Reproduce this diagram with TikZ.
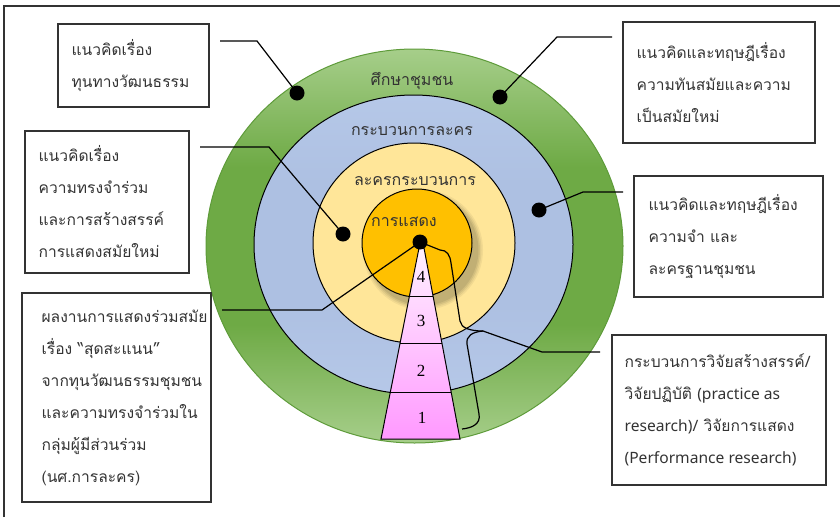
\documentclass[tikz,border=0pt]{standalone}
\usepackage{fontspec}
\setmainfont{Loma}[Script=Thai]
\newfontfamily\numfont{Liberation Serif}
\newfontfamily\latfont{Noto Sans}
\definecolor{grL}{HTML}{A6CE8A}
\definecolor{grD}{HTML}{6EAA45}
\definecolor{grE}{HTML}{5E9B3A}
\definecolor{blL}{HTML}{B6C8E8}
\definecolor{blD}{HTML}{ADC0E2}
\definecolor{yeL}{HTML}{FFE699}
\definecolor{yeD}{HTML}{FADA8A}
\definecolor{orC}{HTML}{FFC000}
\definecolor{pkT}{HTML}{FFF0FF}
\definecolor{pkB}{HTML}{FF99FF}
\definecolor{txtC}{HTML}{333333}
\pgfdeclareverticalshading{greenring}{100bp}{color(0bp)=(grL); color(25bp)=(grL); color(40bp)=(grD); color(60bp)=(grD); color(75bp)=(grL); color(100bp)=(grL)}
\pgfdeclareverticalshading{bluering}{100bp}{color(0bp)=(blL); color(25bp)=(blL); color(40bp)=(blD); color(60bp)=(blD); color(75bp)=(blL); color(100bp)=(blL)}
\begin{document}
\begin{tikzpicture}[x=1pt,y=-1pt,
  boxframe/.style={draw=black!80, line width=1.2pt, inner sep=0pt},
  boxtext/.style={text=txtC, align=left, inner sep=0pt, font=\fontsize{15.6}{32}\selectfont},
  ringlabel/.style={text=txtC, inner sep=0pt, font=\fontsize{16}{20}\selectfont},
  numlabel/.style={text=black, inner sep=0pt, font=\numfont\fontsize{17}{20}\selectfont},
  conn/.style={draw=black, line width=1.2pt},
  dotnode/.style={circle, fill=black, inner sep=0pt, minimum size=15pt},
  ring/.style={line width=1pt}]
\useasboundingbox (0,0) rectangle (840,517);
% frame
\draw[black!80, line width=1.2pt] (4,517) -- (4,6) -- (840,6);

% rings
\shade[ring, shading=greenring, draw=grE] (414.5,246) ellipse [x radius=208.5, y radius=197];
\shade[ring, shading=bluering, draw=black] (413.5,244.5) ellipse [x radius=159.5, y radius=149.5];
\shade[ring, top color=yeL, middle color=yeD, bottom color=yeL, draw=black] (414,243) ellipse [x radius=101, y radius=100];
% shadow of inner circle
\foreach \r/\o in {60/0.05,58.5/0.06,57/0.07,55.5/0.08}
  \fill[black, opacity=\o] (423,250) circle [radius=\r];
\fill[orC, draw=black, ring] (417,243) ellipse [x radius=55, y radius=54];

% ring labels
\node[ringlabel] (lg) at (412,81) {ศึกษาชุมชน};
\node[ringlabel] (lb) at (412,131) {กระบวนการละคร};
\node[ringlabel] (ly) at (415,181) {ละครกระบวนการ};
\node[ringlabel] (lo) at (404,222) {การแสดง};

% trapezoid
\shade[top color=pkT, bottom color=pkB, draw=black, line width=1pt]
  (419,248) -- (424,248) -- (460,439) -- (381,439) -- cycle;
\draw[line width=1pt] (409.4,296) -- (433,296);
\draw[line width=1pt] (400,343) -- (441.9,343);
\draw[line width=1pt] (390.2,392) -- (451.1,392);
\node[numlabel] (n4) at (421,277) {4};
\node[numlabel] (n3) at (421,321) {3};
\node[numlabel] (n2) at (421,371) {2};
\node[numlabel] (n1) at (422,418) {1};

% dots
\node[dotnode] (dA) at (297,93) {};
\node[dotnode] (dD) at (500,97) {};
\node[dotnode] (dB) at (343,234) {};
\node[dotnode] (dE) at (539,210) {};
\node[dotnode] (dC) at (420,242) {};

% boxes
\node[boxframe, minimum width=151pt, minimum height=83pt] (bA) at (133.5,65.5) {};
\node[boxtext, anchor=west] (tA) at ([xshift=14pt]bA.west) {แนวคิดเรื่อง\\ทุนทางวัฒนธรรม};
\node[boxframe, minimum width=164pt, minimum height=142pt] (bB) at (107,202) {};
\node[boxtext, anchor=west] (tB) at ([xshift=14pt]bB.west) {แนวคิดเรื่อง\\ความทรงจำร่วม\\และการสร้างสรรค์\\การแสดงสมัยใหม่};
\node[boxframe, minimum width=189pt, minimum height=209pt] (bC) at (116.5,397.5) {};
\node[boxtext, anchor=west] (tC) at ([xshift=20pt]bC.west) {ผลงานการแสดงร่วมสมัย\\เรื่อง “สุดสะแนน”\\จากทุนวัฒนธรรมชุมชน\\และความทรงจำร่วมใน\\กลุ่มผู้มีส่วนร่วม\\(นศ.การละคร)};
\node[boxframe, minimum width=192pt, minimum height=121pt] (bD) at (719,82.5) {};
\node[boxtext, anchor=west] (tD) at ([xshift=14pt]bD.west) {แนวคิดและทฤษฎีเรื่อง\\ความทันสมัยและความ\\เป็นสมัยใหม่};
\node[boxframe, minimum width=189pt, minimum height=121pt] (bE) at (728.5,236.5) {};
\node[boxtext, anchor=west] (tE) at ([xshift=15pt]bE.west) {แนวคิดและทฤษฎีเรื่อง\\ความจำ และ\\ละครฐานชุมชน};
\node[boxframe, minimum width=214pt, minimum height=150pt] (bF) at (719,410) {};
\node[boxtext, anchor=west] (tF) at ([xshift=13pt]bF.west) {กระบวนการวิจัยสร้างสรรค์{\latfont /}\\วิจัยปฏิบัติ {\latfont (practice as}\\{\latfont research)/} วิจัยการแสดง\\{\latfont (Performance research)}};

% connectors
\coordinate (a0) at (220,41);  \coordinate (a1) at (257,41);
\draw[conn] (a0) -- (a1) -- (dA.center);
\coordinate (d0) at (612,37);  \coordinate (d1) at (557,37);
\draw[conn] (d0) -- (d1) -- (dD.center);
\coordinate (b0) at (200,147); \coordinate (b1) at (269,147);
\draw[conn] (b0) -- (b1) -- (dB.center);
\coordinate (e0) at (623,192); \coordinate (e1) at (583,192);
\draw[conn] (e0) -- (e1) -- (dE.center);
\coordinate (c0) at (222,310); \coordinate (c1) at (322,310);
\draw[conn] (c0) -- (c1) -- (dC.center);
% brace
\coordinate (bt) at (483,331);
\coordinate (f0) at (600,352); \coordinate (f1) at (542,352);
\draw[conn] (f0) -- (f1) -- (bt);
\draw[conn] (dC.center) -- (440,250) .. controls (447,250) and (450,255) .. (451,263)
  -- (460,321) .. controls (461,328) and (470,331) .. (bt);
\draw[conn] (bt) .. controls (472,332) and (466,336) .. (467,344)
  -- (479,414) .. controls (481,424) and (472,428) .. (462,429);
\end{tikzpicture}
\end{document}
